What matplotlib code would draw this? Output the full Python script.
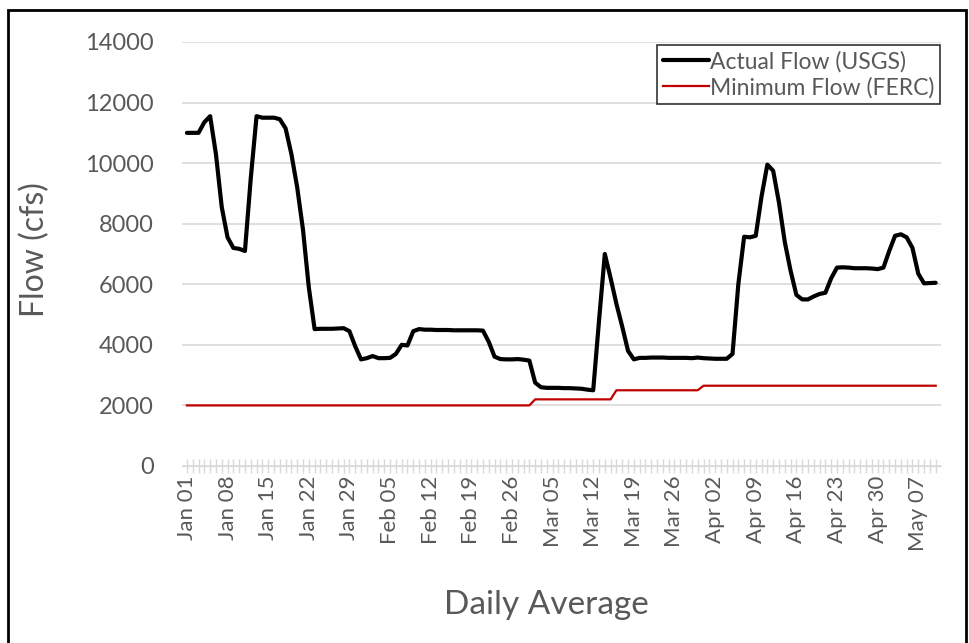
import numpy as np
import pandas as pd
import matplotlib
matplotlib.use("Agg")
import matplotlib.pyplot as plt
from matplotlib.patches import Rectangle
from matplotlib.ticker import MultipleLocator, FixedLocator

plt.rcParams['font.family'] = ['Lato', 'DejaVu Sans']

# Daily dates, Jan 01 through May 10
dates = pd.date_range("2019-01-01", "2019-05-10", freq="D")

# Daily average flow measured at the USGS gauge (cfs)
actual_flow = [
    11000, 11000, 11000, 11350, 11550, 10300, 8550, 7550, 7200, 7170,
    7100, 9500, 11550, 11500, 11500, 11500, 11450, 11150, 10300, 9200,
    7800, 5900, 4520, 4530, 4530, 4530, 4540, 4550, 4450, 3950,
    3520, 3560, 3630, 3560, 3560, 3570, 3700, 4000, 3980, 4450,
    4520, 4500, 4500, 4490, 4490, 4490, 4480, 4480, 4480, 4480,
    4480, 4470, 4100, 3610, 3530, 3520, 3520, 3530, 3510, 3480,
    2750, 2600, 2580, 2580, 2580, 2570, 2570, 2560, 2550, 2520,
    2500, 4800, 7000, 6200, 5350, 4600, 3800, 3520, 3570, 3570,
    3580, 3580, 3580, 3570, 3570, 3570, 3570, 3560, 3580, 3560,
    3550, 3540, 3540, 3540, 3700, 6000, 7570, 7550, 7600, 8900,
    9950, 9750, 8700, 7400, 6450, 5650, 5500, 5500, 5600, 5680,
    5720, 6200, 6550, 6560, 6550, 6530, 6530, 6530, 6520, 6500,
    6550, 7100, 7600, 7650, 7550, 7200, 6350, 6030, 6040, 6050,
]

# Minimum flow required by the FERC licence (cfs)
minimum_flow = [2000] * 60 + [2200] * 14 + [2500] * 15 + [2650] * 41

y_ticks = [0, 2000, 4000, 6000, 8000, 10000, 12000, 14000]

days = np.arange(len(dates))
label_days = days[::7]
tick_labels = [d.strftime("%b %d") for d in dates[::7]]

fig = plt.figure(figsize=(9.69, 6.43), dpi=100)
ax = fig.add_axes([0.1875, 0.2753, 0.7835, 0.6594])

grid_col = "#D9D9D9"
text_col = "#595959"

ax.plot(days, actual_flow, color="black", lw=3.0, solid_joinstyle="round",
        solid_capstyle="round", label="Actual Flow (USGS)", zorder=3)
ax.plot(days, minimum_flow, color="#C00000", lw=1.6,
        label="Minimum Flow (FERC)", zorder=2)

ax.set_ylim(0, 14000)
ax.set_xlim(-0.9, 129.9)
ax.set_yticks(y_ticks)
ax.set_yticklabels([str(v) for v in y_ticks])
ax.yaxis.grid(True, color=grid_col, lw=1.2)
ax.set_axisbelow(True)

ax.xaxis.set_major_locator(FixedLocator(label_days))
ax.set_xticklabels(tick_labels, rotation=90)
ax.xaxis.set_minor_locator(MultipleLocator(1))
ax.tick_params(axis="x", which="both", direction="inout", length=10,
               color=grid_col, width=1.0, labelsize=16, labelcolor=text_col, pad=2)
ax.tick_params(axis="y", length=0, labelsize=17, labelcolor=text_col, pad=20)

for side in ["top", "right", "left"]:
    ax.spines[side].set_visible(False)
ax.spines["bottom"].set_color(grid_col)

ax.set_ylabel("Flow (cfs)", fontsize=23, color=text_col, va="center")
ax.yaxis.set_label_coords(-0.193, 0.51)
ax.set_xlabel("Daily Average", fontsize=24, color=text_col, va="center")
ax.xaxis.set_label_coords(0.481, -0.328)

leg = ax.legend(loc="upper right", bbox_to_anchor=(0.999, 0.993), fontsize=16.5,
                frameon=True, fancybox=False, edgecolor="black",
                handlelength=2.0, handletextpad=0.05, borderpad=0.25,
                labelspacing=0.2, borderaxespad=0.0)
leg.get_frame().set_linewidth(1.2)
for t in leg.get_texts():
    t.set_color(text_col)

# Outer frame around the chart
fig.patches.append(Rectangle((8 / 969, -0.05), (966 - 8) / 969, 1 - 10 / 643 + 0.05,
                             transform=fig.transFigure, fill=False,
                             edgecolor="black", lw=2.0, clip_on=False))

fig.savefig("out.png", dpi=100)
